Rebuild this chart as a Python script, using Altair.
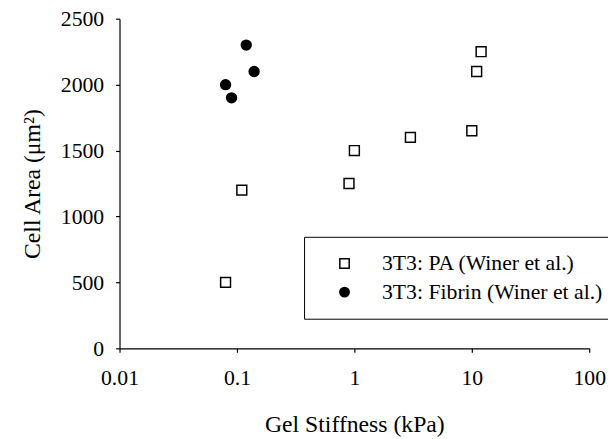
import altair as alt
import pandas as pd

pa_x = [0.08, 0.11, 0.9, 1.0, 3.0, 10.0, 11.0, 12.0]
pa_y = [500, 1200, 1250, 1500, 1600, 1650, 2100, 2250]
fib_x = [0.08, 0.09, 0.12, 0.14]
fib_y = [2000, 1900, 2300, 2100]
series = ["3T3: PA (Winer et al.)", "3T3: Fibrin (Winer et al.)"]
x_ticks = [0.01, 0.1, 1, 10, 100]
y_ticks = [0, 500, 1000, 1500, 2000, 2500]

df = pd.DataFrame({
    "x": pa_x + fib_x,
    "y": pa_y + fib_y,
    "s": [series[0]] * len(pa_x) + [series[1]] * len(fib_x),
})

FONT = "Liberation Serif"
LS = 22
TS = 24

leg = alt.Legend(title=None, orient="none", legendX=187, legendY=221,
                 labelFont=FONT, labelFontSize=LS)

chart = alt.Chart(df).mark_point(filled=True, strokeWidth=1.5, opacity=1, size=100).encode(
    x=alt.X("x:Q", scale=alt.Scale(type="log", domain=[0.01, 100]),
            axis=alt.Axis(values=x_ticks, format="~g", title="Gel Stiffness (kPa)",
                          labelFlush=False, labelFont=FONT, labelFontSize=LS,
                          titleFont=FONT, titleFontSize=TS, titleFontWeight="normal",
                          tickSize=4, labelPadding=16, titlePadding=24)),
    y=alt.Y("y:Q", scale=alt.Scale(domain=[0, 2500]),
            axis=alt.Axis(values=y_ticks, format="d", title="Cell Area (μm²)",
                          labelFont=FONT, labelFontSize=LS,
                          titleFont=FONT, titleFontSize=TS, titleFontWeight="normal",
                          tickSize=4, labelPadding=12, titlePadding=16)),
    shape=alt.Shape("s:N", scale=alt.Scale(domain=series, range=["square", "circle"]), legend=leg),
    fill=alt.Fill("s:N", scale=alt.Scale(domain=series, range=["white", "black"]), legend=leg),
    stroke=alt.Stroke("s:N", scale=alt.Scale(domain=series, range=["black", "black"]), legend=leg),
).properties(
    width=476, height=334,
    autosize=alt.AutoSizeParams(type="none"),
    padding={"left": 113, "top": 8, "right": 19, "bottom": 88},
).configure_view(stroke=None).configure_axis(
    grid=False, domainColor="black", tickColor="black", labelColor="black", titleColor="black",
    domainWidth=1.2, tickWidth=1.2,
).configure_legend(
    labelColor="black",
    strokeColor="black", fillColor="white", padding=16,
    symbolOffset=14, labelOffset=27, rowPadding=7, symbolSize=90, labelLimit=400,
    symbolStrokeWidth=1.5,
)

chart.save("out.html", embed_options={"renderer": "svg", "actions": False})
